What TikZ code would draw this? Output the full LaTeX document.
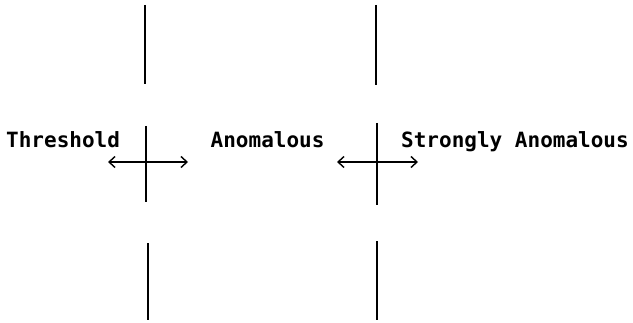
\documentclass[tikz,border=0pt]{standalone}
\usepackage{fontspec}
\newfontfamily\labelfont{DejaVu Sans Mono}[BoldFont={DejaVu Sans Mono Bold}]
\usetikzlibrary{arrows.meta}
\begin{document}
\begin{tikzpicture}[x=1pt,y=1pt,
  bar/.style={line width=2.2pt},
  dbl/.style={line width=1.4pt,{Straight Barb[length=6pt,width=11pt]}-{Straight Barb[length=6pt,width=11pt]}},
  lab/.style={inner sep=0pt,anchor=base west,font=\labelfont\bfseries\fontsize{21}{25}\selectfont}]
\useasboundingbox (0,0) rectangle (633,322);
% labels
\node[lab] (thr) at (6,174) {Threshold};
\node[lab] (ano) at (210.5,174) {Anomalous};
\node[lab] (str) at (401,174) {Strongly Anomalous};
% coordinates
\coordinate (lt1) at (145,317); \coordinate (lt2) at (145,238);
\coordinate (rt1) at (376,317); \coordinate (rt2) at (376,237);
\coordinate (lm1) at (146,196); \coordinate (lm2) at (146,120);
\coordinate (rm1) at (377,199); \coordinate (rm2) at (377,117);
\coordinate (lb1) at (148,79);  \coordinate (lb2) at (148,2);
\coordinate (rb1) at (377,81);  \coordinate (rb2) at (377,2);
\coordinate (la1) at (108,160); \coordinate (la2) at (188,160);
\coordinate (ra1) at (337,160); \coordinate (ra2) at (418,160);
% lines
\draw[bar] (lt1) -- (lt2);
\draw[bar] (rt1) -- (rt2);
\draw[bar] (lm1) -- (lm2);
\draw[bar] (rm1) -- (rm2);
\draw[bar] (lb1) -- (lb2);
\draw[bar] (rb1) -- (rb2);
% arrows
\draw[dbl] (la1) -- (la2);
\draw[dbl] (ra1) -- (ra2);
\end{tikzpicture}
\end{document}
